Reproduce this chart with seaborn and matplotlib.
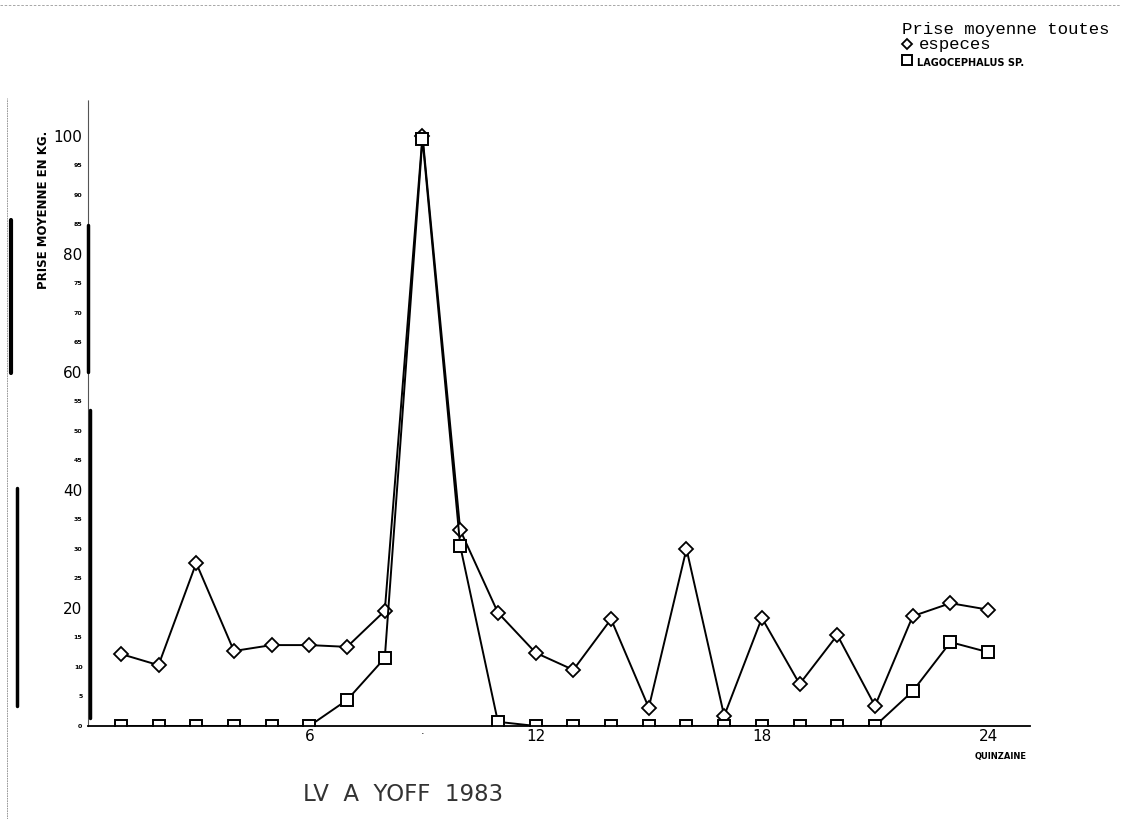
import matplotlib
matplotlib.use('Agg')
import matplotlib.pyplot as plt
import seaborn as sns
import pandas as pd
from matplotlib.lines import Line2D

sns.set_theme(style='white')
plt.rcParams['font.family'] = ['DejaVu Sans']
plt.rcParams['text.color'] = 'black'
plt.rcParams['xtick.color'] = 'black'
plt.rcParams['ytick.color'] = 'black'
plt.rcParams['axes.labelcolor'] = 'black'

# --- data ---
quinzaine = list(range(1, 25))
toutes_especes = [12.2, 10.3, 27.6, 12.7, 13.7, 13.7, 13.4, 19.5, 100.0, 33.2, 19.2, 12.4,
                  9.5, 18.1, 3.1, 30.0, 1.7, 18.3, 7.1, 15.4, 3.4, 18.6, 20.8, 19.7]
lagocephalus = [0, 0, 0, 0, 0, 0, 4.4, 11.5, 99.5, 30.5, 0.7, 0,
                0, 0, 0, 0, 0, 0, 0, 0, 0, 5.9, 14.2, 12.5]
y_major = [20, 40, 60, 80, 100]
y_minor = [0, 5, 10, 15, 25, 30, 35, 45, 50, 55, 65, 70, 75, 85, 90, 95]
x_major = [6, 12, 18, 24]

df = pd.DataFrame({'quinzaine': quinzaine, 'toutes': toutes_especes, 'lago': lagocephalus})

fig = plt.figure(figsize=(11.21, 8.19), dpi=100)
ax = fig.add_axes([0.0785, 0.1136, 0.840, 0.764])

sns.lineplot(data=df, x='quinzaine', y='toutes', ax=ax, color='black', lw=1.4,
             marker='D', markersize=7, markerfacecolor='white', markeredgecolor='black',
             markeredgewidth=1.3)
sns.lineplot(data=df, x='quinzaine', y='lago', ax=ax, color='black', lw=1.4,
             marker='s', markersize=9, markerfacecolor='white', markeredgecolor='black',
             markeredgewidth=1.4)

ax.set_xlim(0.13, 25.1)
ax.set_ylim(0, 106)
sns.despine(ax=ax, top=True, right=True)
ax.spines['left'].set_color('#555555')
ax.spines['left'].set_linewidth(0.8)
ax.spines['left'].set_linestyle((0, (2, 1)))
ax.spines['bottom'].set_color('black')
ax.spines['bottom'].set_linewidth(1.3)

ax.set_yticks(y_major)
ax.set_yticklabels([str(v) for v in y_major], fontsize=11)
ax.set_yticks(y_minor, minor=True)
ax.set_yticklabels([str(v) for v in y_minor], minor=True, fontsize=4.5, fontweight='bold')
ax.tick_params(axis='y', which='both', length=0, pad=4)

ax.set_xticks(x_major)
ax.set_xticklabels([str(v) for v in x_major], fontsize=11)
ax.set_xticks([9], minor=True)
ax.set_xticklabels(['·'], minor=True, fontsize=8)
ax.tick_params(axis='x', which='both', length=0, pad=2)

ax.set_xlabel('')
ax.set_ylabel('PRISE MOYENNE EN KG.', fontsize=8.5, fontweight='bold')
ax.yaxis.set_label_coords(-0.040, 0.824)
fig.text(0.893, 0.073, 'QUINZAINE', fontsize=6, fontweight='bold', ha='center')

# legend block, top right
fig.text(0.805, 0.958, 'Prise moyenne toutes', fontsize=12.5, family='Liberation Mono')
fig.text(0.820, 0.940, 'especes', fontsize=12.5, family='Liberation Mono')
fig.add_artist(Line2D([0.809], [0.946], marker='D', markersize=5, markerfacecolor='white',
                      markeredgecolor='black', markeredgewidth=1.3, transform=fig.transFigure))
fig.add_artist(Line2D([0.809], [0.927], marker='s', markersize=7, markerfacecolor='white',
                      markeredgecolor='black', markeredgewidth=1.4, transform=fig.transFigure))
fig.text(0.818, 0.920, 'LAGOCEPHALUS SP.', fontsize=7, fontweight='bold')

# bottom caption
fig.text(0.27, 0.022, 'LV  A  YOFF  1983', fontsize=16.5, color='#333333')

# scan marks on the left edge of the page (figure coords, y from bottom)
for x, y_top, y_bot, w in [(0.0098, 0.731, 0.545, 3), (0.0152, 0.404, 0.138, 2.5),
                           (0.0785, 0.725, 0.546, 2.5), (0.0800, 0.499, 0.123, 2.5)]:
    fig.add_artist(Line2D([x, x], [y_top, y_bot], color='black', lw=w,
                          transform=fig.transFigure))
fig.add_artist(Line2D([0.006, 0.006], [0.0, 0.88], color='#888888', lw=0.6, ls=(0, (2, 1)),
                      transform=fig.transFigure))
fig.add_artist(Line2D([0.0, 1.0], [0.994, 0.994], color='#999999', lw=0.6, ls=(0, (3, 2)),
                      transform=fig.transFigure))

fig.savefig('out.png', dpi=100)
